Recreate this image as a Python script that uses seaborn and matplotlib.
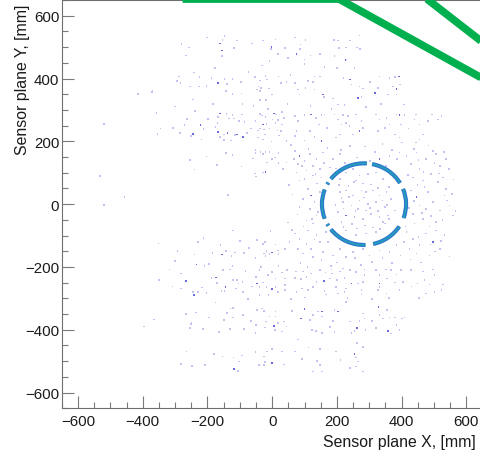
import numpy as np
import pandas as pd
import matplotlib
matplotlib.use("Agg")
import matplotlib.pyplot as plt
from matplotlib.patches import Arc
from matplotlib.ticker import FixedLocator, MultipleLocator
import seaborn as sns

# ---------------- data (mm) ----------------
# low-occupancy hits (single count per cell)
hits_single = [
    (-147,536),(-154,523),(-108,521),(-28,521),(10,524),(-3,494),(-155,471),(18,478),(-280,510),(-257,499),
    (-267,473),(-176,433),(-31,441),(-288,407),(-225,404),(-147,399),(-123,399),(-139,383),(-53,405),(-21,409),
    (-15,397),(20,407),(-37,394),(-42,375),(-46,365),(-35,370),(-10,368),(-37,360),(-255,375),(-226,375),
    (-283,385),(-294,392),(-414,351),(-370,360),(-143,360),(-123,351),(-95,352),(-1,349),(-38,332),(-20,332),
    (-244,333),(-358,290),(-519,255),(-345,241),(-263,271),(-355,224),(-284,227),(-250,217),(-219,206),(-168,278),
    (-141,288),(-123,283),(-117,273),(-133,273),(-94,286),(-103,264),(-86,261),(-169,259),(-175,245),(-149,222),
    (-115,221),(-128,203),(-148,205),(-162,213),(-78,227),(-52,264),(-31,282),(-38,288),(-21,277),(1,270),
    (-17,256),(-43,235),(-37,241),(-25,238),(-8,241),(10,259),(16,235),(19,267),(-23,222),(-44,212),
    (-29,206),(-2,199),(21,219),(12,286),(-372,358),(-295,391),
    (70,531),(103,523),(88,508),(87,495),(119,473),(100,460),(100,447),(162,436),(191,523),(203,521),
    (240,521),(270,537),(206,497),(229,499),(262,499),(272,495),(193,471),(255,434),(39,497),(28,386),
    (44,389),(70,386),(80,365),(85,349),(111,393),(126,389),(131,407),(147,407),(103,370),(131,365),
    (160,341),(188,336),(203,317),(224,315),(245,381),(270,375),(281,368),(276,341),(327,370),(332,407),
    (363,402),(379,404),(373,375),(396,381),(358,349),(384,349),(201,434),(31,294),(36,275),(70,280),
    (80,264),(100,284),(136,275),(152,284),(162,286),(145,254),(75,233),(70,217),(116,233),(131,214),
    (100,203),(193,286),(203,270),(219,284),(234,280),(214,254),(229,259),(239,249),(260,286),(276,264),
    (281,243),(250,222),(209,222),(198,212),(322,286),(332,270),(353,275),(363,254),(348,243),(327,233),
    (384,286),(409,283),(399,254),(379,222),(394,212),(445,286),(440,270),(456,254),(481,264),(495,286),
    (512,270),(523,280),(466,222),(456,206),(445,196),(31,254),(28,233),(44,201),(193,524),(229,461),
    (-142,162),(-123,156),(-203,152),(-255,140),(-51,172),(-51,163),(-36,167),(-21,167),(-8,167),(-28,159),
    (8,149),(20,163),(0,144),(-15,133),(20,131),(-28,101),(-54,98),(-49,88),(-533,89),(-456,22),
    (-519,-2),(-137,29),(-121,-84),(-212,-107),(-351,-125),(-293,-149),(-142,-150),(-114,-154),(-126,-165),(-88,-155),
    (-47,-115),(-28,-126),(-23,-121),(10,-128),(-18,-149),(-25,-157),(18,-147),(20,-159),(-21,-166),(-51,-172),
    (-8,-159),(-195,-191),(-209,-197),(-123,-197),(20,-197),(-34,-200),
    (70,170),(80,128),(100,138),(116,159),(126,122),(137,144),(147,112),(106,107),(75,101),(157,165),
    (44,133),(34,112),(126,91),(100,80),(152,85),(85,75),(229,101),(250,112),(270,91),(296,96),
    (322,101),(343,80),(209,80),(260,75),(415,154),(430,128),(446,165),(456,112),(476,144),(492,96),
    (507,159),(518,122),(528,85),(435,85),(466,75),(497,170),(538,144),(394,165),(363,154),(209,159),
    (188,144),(178,117),(111,49),(131,6),(116,-15),(137,-36),(106,-52),(126,-62),(147,38),(142,-25),
    (95,17),(85,-10),(209,38),(229,43),(250,27),(276,43),(291,38),(312,43),(332,27),(353,38),
    (368,17),(219,6),(245,-4),(270,12),(296,1),(322,6),(348,-10),(203,-25),(255,-41),(281,-47),
    (306,-31),(332,-41),(358,-36),(379,-20),(214,-57),(291,-20),(265,-15),(343,-57),(430,43),(456,-4),
    (435,-31),(466,-47),(481,38),(497,6),(518,-20),(533,27),(548,-4),(559,-36),(507,-57),(476,-15),
    (538,49),(440,-62),(70,-94),(85,-110),(106,-126),(121,-142),(137,-99),(147,-120),(95,-157),(126,-168),
    (157,-152),(80,-142),(167,-89),(111,-84),(54,-120),(39,-142),(229,-84),(260,-99),(291,-94),(322,-89),
    (353,-105),(209,-142),(250,-152),(281,-142),(332,-147),(363,-152),(384,-131),(301,-163),(229,-168),(188,-163),
    (415,-89),(435,-110),(456,-131),(476,-94),(518,-142),(446,-157),(487,-163),(533,-99),(425,-142),(507,-84),
    (-317,-208),(-281,-221),(-350,-242),(-152,-210),(-131,-208),(-121,-242),(-109,-242),(-104,-253),(-92,-247),(-170,-251),
    (-111,-269),(-90,-279),(-216,-265),(-281,-268),(-245,-279),(-229,-279),(-157,-277),(-147,-277),(-49,-232),(-39,-263),
    (-28,-250),(-18,-263),(10,-237),(10,-263),(-11,-290),(-39,-290),(19,-279),(-39,-210),(-13,-226),(0,-216),
    (-175,-313),(-129,-332),(-121,-330),(-140,-346),(-46,-337),(-31,-332),(-26,-340),(10,-342),(-8,-358),(-20,-374),
    (10,-358),(18,-379),(8,-401),(-23,-393),(-49,-385),(-52,-411),(-121,-361),(-149,-369),(-131,-397),(-87,-397),
    (-164,-408),(-267,-350),(-236,-345),(-365,-367),(-396,-390),(-250,-382),(-254,-395),(-265,-469),(-281,-509),(-248,-515),
    (-154,-485),(-119,-488),(-94,-482),(-103,-501),(-106,-531),(-25,-485),(-1,-462),(-15,-469),(-23,-503),(-26,-512),
    (-41,-512),(-249,-379),
    (31,-218),(46,-210),(73,-214),(95,-214),(121,-221),(147,-210),(165,-218),(183,-208),(209,-214),(219,-205),
    (240,-210),(260,-216),(286,-208),(286,-226),(322,-210),(332,-226),(351,-208),(368,-210),(384,-224),(399,-210),
    (430,-210),(466,-214),(497,-208),(502,-226),(39,-237),(70,-235),(90,-239),(106,-232),(137,-247),(178,-237),
    (200,-242),(224,-235),(265,-253),(281,-247),(355,-237),(379,-250),(404,-247),(449,-253),(471,-242),(487,-256),
    (528,-256),(39,-258),(39,-274),(75,-279),(93,-269),(111,-274),(126,-263),(162,-277),(167,-288),(198,-263),
    (203,-284),(224,-279),(229,-269),(276,-274),(276,-288),(327,-274),(332,-263),(353,-284),(394,-274),(476,-284),
    (502,-279),(523,-274),(116,-369),(126,-353),(142,-342),(155,-358),(193,-337),(188,-372),(229,-311),(281,-348),
    (286,-364),(270,-372),(255,-404),(289,-401),(240,-374),(332,-353),(343,-364),(355,-337),(363,-361),(379,-361),
    (402,-364),(409,-361),(384,-385),(394,-401),(322,-395),(36,-374),(44,-390),(31,-406),(124,-401),(135,-404),
    (155,-411),(193,-408),(245,-411),(31,-469),(70,-469),(93,-493),(147,-461),(198,-469),(260,-488),(262,-443),
    (265,-501),(260,-517),(36,-511),(139,-499),(147,-512),(155,-533),(126,-533),(240,-522),(281,-533),
]

# further single hits around the ring and in the tiles
hits_single_extra = [
    (58,188),(67,143),(93,121),(112,176),(134,97),(161,131),(171,178),(52,62),(63,31),(78,-33),
    (97,-71),(124,-48),(139,66),(158,-12),(48,-58),(61,-83),(88,-187),(109,-201),(131,-113),(152,-178),
    (173,-121),(182,-196),(201,-186),(238,-119),(257,-171),(274,-194),(309,-184),(318,-128),(341,-171),(371,-188),
    (397,-163),(408,-121),(428,-176),(452,-104),(461,-186),(489,-128),(503,-151),(522,-118),(548,-167),(412,-71),
    (423,-12),(438,11),(449,61),(463,-28),(471,54),(486,-71),(492,-38),(512,71),(527,-51),(541,12),
    (556,33),(567,-21),(419,93),(438,176),(452,141),(468,103),(483,187),(502,131),(515,98),(531,166),
    (546,112),(561,79),(402,196),(385,143),(371,172),(352,121),(341,191),(318,167),(302,138),(287,183),
    (263,148),(241,186),(226,131),(212,173),(197,113),(236,58),(254,71),(281,66),(305,63),(327,52),
    (221,-72),(247,-63),(263,-78),(287,-68),(311,-74),(334,-79),(238,23),(258,-22),(284,21),(302,-12),
    (327,-21),(341,12),(221,-14),(214,19),(355,-3),(361,54),(207,62),(196,-3),(348,-62),(362,-48),
    (-58,312),(-12,302),(-66,241),(-92,318),(-183,318),(-198,271),(-212,239),(-238,296),(-271,252),(-301,311),
    (-307,243),(-187,402),(-203,377),(-241,419),(-96,389),(-73,421),(-8,455),(-63,512),(-118,498),(-201,531),
    (48,466),(57,412),(148,478),(221,402),(302,389),(337,318),(408,317),(421,241),(47,318),(118,312),
    (170,243),(183,302),(291,309),(-82,-213),(-63,-262),(-188,-236),(-203,-283),(-308,-262),(-74,-301),(-196,-361),
    (-213,-398),(-91,-352),(-66,-372),(-180,-478),(-207,-512),(-52,-471),(58,-301),(101,-297),(186,-221),(233,-298),
    (309,-301),(361,-299),(431,-262),(453,-298),(62,-341),(178,-392),(309,-372),(368,-412),(79,-431),(112,-456),
    (211,-496),(281,-455),(-5,-86),(-72,-140),(-100,-118),(-160,-131),(-185,-155),(-230,-120),(-240,-160),(-300,-180),
    (-60,145),(-95,120),(-170,125),(-240,110),
]

# cells with two or more hits (darker)
hits_double = [
    (-161,512),(-2,501),(-156,489),(-167,385),(-222,253),(-245,223),(-162,289),(-168,230),(-138,226),(-108,222),
    (-91,213),(6,289),(-29,254),(75,478),(227,458),(157,349),(240,397),(265,338),(317,354),(392,406),
    (384,367),(121,286),(152,201),(270,233),(394,283),(-21,103),(-155,-160),(0,-154),(-234,-192),(-267,-244),
    (-173,-234),(-144,-263),(-242,-290),(-47,-253),(0,-271),(6,-387),(-118,-525),(0,-506),(160,-245),(245,-253),
    (332,-253),(100,-334),(90,-364),(155,-342),(203,-342),(262,-395),(329,-327),(359,-404),(255,-478),(121,27),
    (229,-36),(446,22),(497,-120),(85,154),(332,144),
]

# Cherenkov ring: centre, radius and arc segments (degrees)
ring_center = (284, 0)
ring_radius = 130
ring_arc_start = [31, -20, -77.5, 218, 159, 86, 148, 209]
ring_arc_end = [79, 22, -33, 272, 201, 142, 151, 212]

# neighbouring detector outline (green)
outline1_x = [-277, 207, 700]
outline1_y = [653, 653, 372]
outline2_x = [420, 700]
outline2_y = [700, 476]

tick_values = [-600, -400, -200, 0, 200, 400, 600]
tick_labels = ["\u2212600", "\u2212400", "\u2212200", "0", "200", "400", "600"]

# ---------------- plotting ----------------
sns.set_theme(style="white")
plt.rcParams["font.family"] = ["Liberation Sans", "DejaVu Sans"]

fig = plt.figure(figsize=(4.8, 4.56), dpi=100)
ax = fig.add_axes([0.129, 0.1024, 0.876, 0.8954])

df = pd.concat([
    pd.DataFrame(hits_single + hits_single_extra, columns=["x", "y"]).assign(hits=1),
    pd.DataFrame(hits_double, columns=["x", "y"]).assign(hits=2),
], ignore_index=True)

sns.scatterplot(data=df, x="x", y="y", hue="hits",
                palette={1: "#c3c3ef", 2: "#6a6adc"},
                marker="s", s=1.4, linewidth=0, legend=False, ax=ax, zorder=2)

for a0, a1 in zip(ring_arc_start, ring_arc_end):
    ax.add_patch(Arc(ring_center, 2 * ring_radius, 2 * ring_radius, theta1=a0, theta2=a1,
                     lw=3.0, color="#2d78cc", capstyle="butt", zorder=3))
    ax.add_patch(Arc(ring_center, 2 * ring_radius, 2 * ring_radius, theta1=a0, theta2=a1,
                     lw=1.0, color="#22a4b8", capstyle="butt", zorder=4))

ax.plot(outline1_x, outline1_y, color="#00b04f", lw=5.5,
        solid_joinstyle="miter", solid_capstyle="butt", zorder=5)
ax.plot(outline2_x, outline2_y, color="#00b04f", lw=5.5,
        solid_joinstyle="miter", solid_capstyle="butt", zorder=5)

ax.set_xlim(-650, 650)
ax.set_ylim(-650, 650)

ax.xaxis.set_major_locator(FixedLocator(tick_values))
ax.yaxis.set_major_locator(FixedLocator(tick_values))
ax.set_xticklabels(tick_labels)
ax.set_yticklabels(tick_labels)
ax.xaxis.set_minor_locator(MultipleLocator(50))
ax.yaxis.set_minor_locator(MultipleLocator(50))

ax.tick_params(axis="both", which="major", direction="in", length=8.6, width=0.8,
               color="#7a7a7a", labelsize=10.8, labelcolor="#1a1a1a")
ax.tick_params(axis="both", which="minor", direction="in", length=4.3, width=0.8,
               color="#7a7a7a")
ax.tick_params(axis="x", which="both", bottom=True, top=False, pad=4.2)
ax.tick_params(axis="y", which="both", left=True, right=False, pad=2.0)

for side in ["left", "bottom", "top", "right"]:
    ax.spines[side].set_color("#707070")
    ax.spines[side].set_linewidth(0.8)

ax.set_xlabel("Sensor plane X, [mm]", fontsize=11.4, color="#1a1a1a", loc="right")
ax.set_ylabel("Sensor plane Y, [mm]", fontsize=11.4, color="#1a1a1a", loc="top")
ax.xaxis.set_label_coords(0.984, -0.062)
ax.yaxis.set_label_coords(-0.075, 0.99)

fig.savefig("out.png", dpi=100)
